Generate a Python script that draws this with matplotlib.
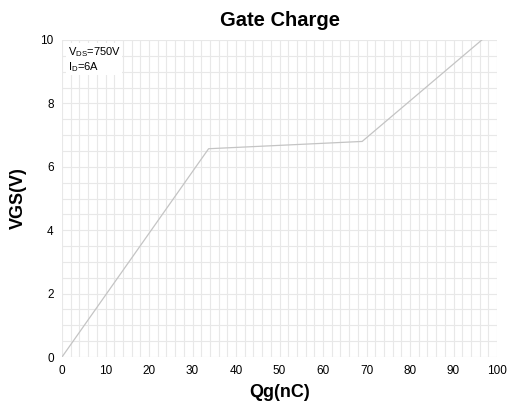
import numpy as np
import matplotlib.pyplot as plt
from matplotlib.ticker import MultipleLocator

plt.rc('font', family='Liberation Sans')

# gate charge curve
qg = [0, 33.7, 69.0, 96.5]
vgs = [0, 6.57, 6.80, 10.0]

fig = plt.figure(figsize=(5.11, 4.09), dpi=100)
ax = fig.add_axes([62/511, 1 - 357/409, (497-62)/511, (357-40)/409])

ax.plot(qg, vgs, color='#c4c4c4', lw=0.9)

ax.set_xlim(0, 100)
ax.set_ylim(0, 10)
ax.xaxis.set_major_locator(MultipleLocator(10))
ax.xaxis.set_minor_locator(MultipleLocator(2))
ax.yaxis.set_major_locator(MultipleLocator(2))
ax.yaxis.set_minor_locator(MultipleLocator(0.5))
ax.grid(which='both', color='#e8e8e8', lw=0.8)
ax.set_axisbelow(True)
for s in ax.spines.values():
    s.set_visible(False)
ax.tick_params(which='both', length=0, labelsize=8.5)
ax.tick_params(axis='x', pad=6)
ax.tick_params(axis='y', pad=6)

ax.set_title('Gate Charge', fontsize=14.5, fontweight='bold', pad=10)
ax.set_xlabel('Qg(nC)', fontsize=13, fontweight='bold', labelpad=5)
ax.set_ylabel('VGS(V)', fontsize=13, fontweight='bold', labelpad=10)

ax.text(1.3, 9.85, r'V$_{\mathregular{DS}}$=750V' + '\n' + r'I$_{\mathregular{D}}$=6A',
        fontsize=8, va='top', ha='left', linespacing=1.15,
        bbox=dict(facecolor='white', edgecolor='none', pad=1))

plt.savefig('out.png')
